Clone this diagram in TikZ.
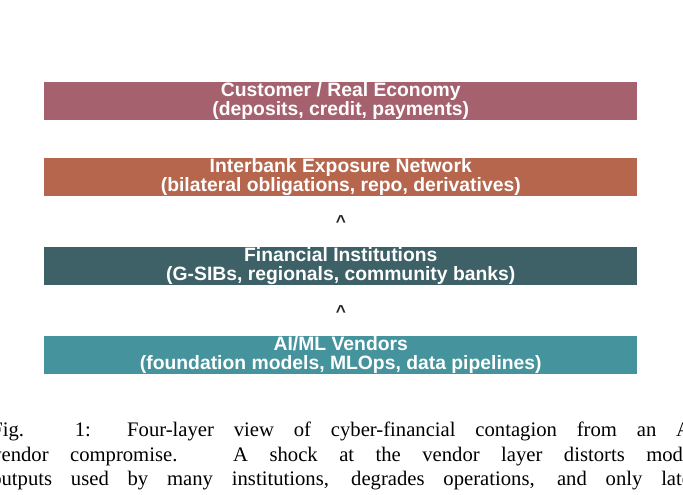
\documentclass[tikz,border=0pt]{standalone}
\usepackage{fontspec}
\setmainfont{Liberation Serif}
\setsansfont{Liberation Sans}
\begin{document}
\begin{tikzpicture}[x=0.75pt,y=-0.75pt,
  layer/.style={minimum width=593*0.75pt,minimum height=37*0.75pt,inner sep=0pt,anchor=north west,
    text=white,font=\sffamily\bfseries\fontsize{14.5}{14.5}\selectfont,align=center},
  tip/.style={font=\sffamily\bfseries\fontsize{13}{13}\selectfont,text=black!85},
  captext/.style={anchor=base west,inner sep=0pt,font=\fontsize{15.5}{18}\selectfont}]
\useasboundingbox[clip] (0,0) rectangle (683,495);
\definecolor{c1}{HTML}{A5616E}\definecolor{c2}{HTML}{B5664D}
\definecolor{c3}{HTML}{3D6166}\definecolor{c4}{HTML}{45939C}
\node[layer,fill=c1] (cust) at (44,82) {Customer / Real Economy\\(deposits, credit, payments)};
\node[layer,fill=c2] (inter) at (44,158) {Interbank Exposure Network\\(bilateral obligations, repo, derivatives)};
\node[layer,fill=c3] (fin) at (44,247) {Financial Institutions\\(G-SIBs, regionals, community banks)};
\node[layer,fill=c4] (ai) at (44,336) {AI/ML Vendors\\(foundation models, MLOps, data pipelines)};
\node[tip] (t1) at (341,222) {\textasciicircum};
\node[tip] (t2) at (341,312) {\textasciicircum};
\node[captext] (l1) at (-9,437) {\makebox[530pt][s]{Fig. 1: Four-layer view of cyber-financial contagion from an AI}};
\node[captext] (l2) at (-9,462) {\makebox[530pt][s]{vendor compromise. A shock at the vendor layer distorts model}};
\node[captext] (l3) at (-9,486) {\makebox[530pt][s]{outputs used by many institutions, degrades operations, and only later}};
\end{tikzpicture}
\end{document}
